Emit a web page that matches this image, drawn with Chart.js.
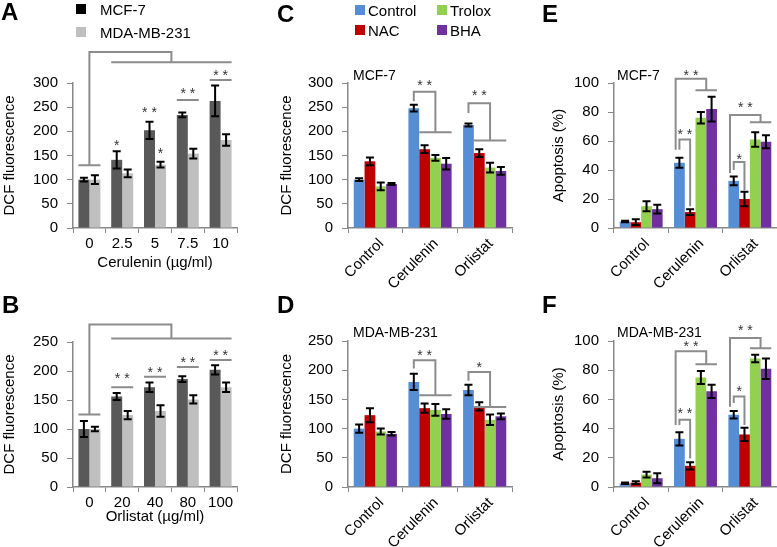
<!DOCTYPE html>
<html>
<head>
<meta charset="utf-8">
<script src="https://cdn.jsdelivr.net/npm/chart.js@4.4.1/dist/chart.umd.min.js"></script>
<style>
  body { margin: 0; background: #fff; width: 777px; height: 547px; position: relative; overflow: hidden;
         font-family: "Liberation Sans", Arial, sans-serif; color: #000; }
  canvas { position: absolute; }
  .letter { position: absolute; font-weight: bold; font-size: 24px; line-height: 1; }
  .sub { position: absolute; font-size: 14px; line-height: 1; }
  .leg { position: absolute; display: flex; align-items: center; height: 20px; font-size: 15px; white-space: nowrap; }
  .leg i { display: inline-block; width: 10px; height: 10px; }
</style>
</head>
<body>
<canvas id="pA"></canvas>
<canvas id="pB"></canvas>
<canvas id="pC"></canvas>
<canvas id="pD"></canvas>
<canvas id="pE"></canvas>
<canvas id="pF"></canvas>
<div class="letter" style="left:1px;top:0px">A</div>
<div class="letter" style="left:2px;top:293px">B</div>
<div class="letter" style="left:277px;top:2px">C</div>
<div class="letter" style="left:277px;top:293px">D</div>
<div class="letter" style="left:542px;top:2px">E</div>
<div class="letter" style="left:542px;top:293px">F</div>
<div id="legA"></div>
<div id="legC"></div>
<div class="sub" style="left:353px;top:68px">MCF-7</div>
<div class="sub" style="left:353px;top:325px">MDA-MB-231</div>
<div class="sub" style="left:617px;top:68px">MCF-7</div>
<div class="sub" style="left:617px;top:325px">MDA-MB-231</div>
<script>
// ---- data ----
const cerDoses = ['0', '2.5', '5', '7.5', '10'];
const orlDoses = ['0', '20', '40', '80', '100'];
const cellLines = ['MCF-7', 'MDA-MB-231'];
const cellColors = ['#595959', '#bfbfbf'];

const cerMcf = [100, 141, 202, 234, 263];
const cerMcfErr = [4, 18, 18, 5, 32];
const cerMda = [100, 113, 131, 154, 182];
const cerMdaErr = [9, 8, 6, 10, 12];

const orlMcf = [100, 156, 172, 186, 202];
const orlMcfErr = [14, 6, 8, 5, 8];
const orlMda = [100, 124, 131, 151, 172];
const orlMdaErr = [4, 7, 10, 7, 8];

const groups = ['Control', 'Cerulenin', 'Orlistat'];
const treatments = ['Control', 'NAC', 'Trolox', 'BHA'];
const treatColors = ['#558ed5', '#c00000', '#92d050', '#7030a0'];

// one row per treatment, one column per group
const dcfMcf = [[100, 248, 213], [138, 163, 155], [86, 145, 125], [91, 133, 118]];
const dcfMcfErr = [[3, 7, 3], [8, 8, 8], [8, 6, 10], [2, 12, 8]];
const dcfMda = [[100, 180, 166], [123, 135, 138], [95, 132, 115], [91, 125, 121]];
const dcfMdaErr = [[7, 14, 9], [12, 8, 7], [5, 10, 9], [3, 8, 5]];
const apoMcf = [[4.5, 45, 32.5], [4, 11, 20], [15, 76, 61], [13, 82, 59.5]];
const apoMcfErr = [[0.5, 3.5, 3], [2, 2, 5], [3.5, 4, 5], [3, 8.5, 4.5]];
const apoMda = [[2.5, 33, 49.5], [3, 14.5, 36], [8.5, 75, 88], [6, 65.5, 81]];
const apoMdaErr = [[0.5, 4.5, 2.5], [1, 2.5, 4.5], [2, 4.5, 2.5], [3.5, 4.5, 7]];

// significance, in data units
const cerBig = { base: 130, top: 364, low: 343 };
const cerPairs = [[0, 130], [3, 265, '* *', 283], [4, 306, '* *', 320]];
const cerStars = [[1, 0, '*', 175], [2, 0, '* *', 244], [2, 1, '*', 160]];
const orlBig = { base: 125, top: 280, low: 256 };
const orlPairs = [[0, 125], [1, 172, '* *', 191], [2, 190, '* *', 202], [3, 207, '* *', 218], [4, 219, '* *', 230]];

const dcfMcfSig = [
  { group: 1, base: 262, top: 282, low: 198, span: [1, 3], mark: '* *', at: 300 },
  { group: 2, base: 238, top: 258, low: 181, span: [1, 3], mark: '* *', at: 279 }
];
const dcfMdaSig = [
  { group: 1, base: 203, top: 217, low: 157, span: [1, 3], mark: '* *', at: 229 },
  { group: 2, base: 182, top: 197, low: 137, span: [1, 3], mark: '*', at: 209 }
];
const apoMcfSig = [
  { group: 1, base: 54, top: 103, low: 95, span: [2, 3], outer: true, mark: '* *', at: 107 },
  { group: 1, base: 54, top: 61, low: 15, span: [1, 1], mark: '* *', at: 66 },
  { group: 2, base: 38, top: 78, low: 73, span: [2, 3], outer: true, mark: '* *', at: 84.5 },
  { group: 2, base: 40, top: 45.5, low: 26, span: [1, 1], mark: '*', at: 49 }
];
const apoMdaSig = [
  { group: 1, base: 42.5, top: 93, low: 84, span: [2, 3], outer: true, mark: '* *', at: 98 },
  { group: 1, base: 42.5, top: 46, low: 19.5, span: [1, 1], mark: '* *', at: 52 },
  { group: 2, base: 55, top: 102, low: 95, span: [2, 3], outer: true, mark: '* *', at: 108.5 },
  { group: 2, base: 57.5, top: 62, low: 42.5, span: [1, 1], mark: '*', at: 66.7 }
];

// ---- drawing ----
Chart.defaults.font.family = '"Liberation Sans", Arial, sans-serif';
Chart.defaults.color = '#000';
const axisGray = '#888888';
const bracketGray = '#8c8c8c';
const starColor = '#333';

function drawStar(ctx, text, x, y) {
  ctx.font = '14px "Liberation Sans", Arial, sans-serif';
  ctx.fillStyle = starColor;
  ctx.textAlign = 'center';
  ctx.textBaseline = 'middle';
  ctx.fillText(text, x, y + 3);
}

const errorBars = {
  id: 'errorBars',
  afterDatasetsDraw(chart) {
    const ctx = chart.ctx, y = chart.scales.y;
    ctx.save();
    ctx.strokeStyle = '#000';
    ctx.lineWidth = 2;
    chart.data.datasets.forEach((ds, i) => {
      chart.getDatasetMeta(i).data.forEach((bar, j) => {
        const hi = y.getPixelForValue(ds.data[j] + ds.errors[j]);
        const lo = y.getPixelForValue(ds.data[j] - ds.errors[j]);
        ctx.beginPath();
        ctx.moveTo(bar.x, hi); ctx.lineTo(bar.x, lo);
        ctx.moveTo(bar.x - 4, hi); ctx.lineTo(bar.x + 4, hi);
        ctx.moveTo(bar.x - 4, lo); ctx.lineTo(bar.x + 4, lo);
        ctx.stroke();
      });
    });
    ctx.restore();
  }
};

function doseMarks(big, pairs, stars) {
  return {
    id: 'doseMarks',
    afterDatasetsDraw(chart) {
      const ctx = chart.ctx, y = chart.scales.y;
      const bar = (s, c) => chart.getDatasetMeta(s).data[c];
      const px = v => y.getPixelForValue(v);
      const n = chart.data.labels.length;
      ctx.save();
      ctx.strokeStyle = bracketGray;
      ctx.lineWidth = 2;
      const x0 = (bar(0, 0).x + bar(1, 0).x) / 2;
      const xa = bar(0, 1).x - bar(0, 1).width / 2;
      const xz = bar(1, n - 1).x + bar(1, n - 1).width / 2;
      const xm = (xa + xz) / 2;
      ctx.beginPath();
      ctx.moveTo(x0, px(big.base)); ctx.lineTo(x0, px(big.top));
      ctx.lineTo(xm, px(big.top)); ctx.lineTo(xm, px(big.low));
      ctx.moveTo(xa, px(big.low)); ctx.lineTo(xz, px(big.low));
      pairs.forEach(([c, v]) => {
        const l = bar(0, c), r = bar(1, c);
        ctx.moveTo(l.x - l.width / 2, px(v)); ctx.lineTo(r.x + r.width / 2, px(v));
      });
      ctx.stroke();
      pairs.forEach(([c, v, mark, at]) => {
        if (mark) drawStar(ctx, mark, (bar(0, c).x + bar(1, c).x) / 2, px(at));
      });
      stars.forEach(([c, s, mark, at]) => drawStar(ctx, mark, bar(s, c).x, px(at)));
      ctx.restore();
    }
  };
}

function groupMarks(list) {
  return {
    id: 'groupMarks',
    afterDatasetsDraw(chart) {
      const ctx = chart.ctx, y = chart.scales.y;
      const px = v => y.getPixelForValue(v);
      ctx.save();
      ctx.strokeStyle = bracketGray;
      ctx.lineWidth = 2;
      list.forEach(b => {
        const bar = s => chart.getDatasetMeta(s).data[b.group];
        const c = bar(0);
        const x0 = b.outer ? c.x - c.width * 0.35 : c.x;
        const first = bar(b.span[0]), last = bar(b.span[1]);
        let xm;
        ctx.beginPath();
        ctx.moveTo(x0, px(b.base)); ctx.lineTo(x0, px(b.top));
        if (b.span[0] === b.span[1]) {
          xm = first.x;
          ctx.lineTo(xm, px(b.top)); ctx.lineTo(xm, px(b.low));
        } else {
          const xa = first.x - first.width / 2, xz = last.x + last.width / 2;
          xm = (xa + xz) / 2;
          ctx.lineTo(xm, px(b.top)); ctx.lineTo(xm, px(b.low));
          ctx.moveTo(xa, px(b.low)); ctx.lineTo(xz, px(b.low));
        }
        ctx.stroke();
        drawStar(ctx, b.mark, (x0 + xm) / 2, px(b.at));
      });
      ctx.restore();
    }
  };
}

function barPanel(id, box, area, o) {
  const c = document.getElementById(id);
  c.width = box.w; c.height = box.h;
  c.style.left = box.x + 'px'; c.style.top = box.y + 'px';
  const padBottom = o.padBottom || 0;
  return new Chart(c, {
    type: 'bar',
    data: { labels: o.labels, datasets: o.datasets },
    options: {
      responsive: false, animation: false, devicePixelRatio: 1,
      layout: { padding: { left: 0, top: area.top - box.y, right: box.x + box.w - area.right, bottom: padBottom } },
      datasets: { bar: { categoryPercentage: o.catPct, barPercentage: 1 } },
      plugins: { legend: { display: false }, tooltip: { enabled: false } },
      scales: {
        x: {
          grid: { drawOnChartArea: false, tickLength: 5, color: axisGray },
          border: { color: axisGray, width: 1.5 },
          ticks: { font: { size: o.xFont }, padding: o.xPad, minRotation: o.rot, maxRotation: o.rot,
                   labelOffset: o.labelOffset || 0, autoSkip: false },
          title: o.xTitle ? { display: true, text: o.xTitle, font: { size: 15 }, padding: 0 } : { display: false },
          afterFit: s => { s.height = box.y + box.h - padBottom - area.bottom; }
        },
        y: {
          min: 0, max: o.yMax,
          ticks: { stepSize: o.yStep, font: { size: o.yFont }, padding: 9 },
          grid: { drawOnChartArea: false, tickLength: 6, color: axisGray },
          border: { color: axisGray, width: 1.5 },
          title: { display: true, text: o.yTitle, font: { size: 15 }, padding: { top: o.yTitlePad, bottom: 0 } },
          afterFit: s => { s.width = area.left - box.x; }
        }
      }
    },
    plugins: [errorBars, o.marks]
  });
}

function cellSets(a, aErr, b, bErr) {
  return [
    { label: cellLines[0], data: a, errors: aErr, backgroundColor: cellColors[0] },
    { label: cellLines[1], data: b, errors: bErr, backgroundColor: cellColors[1] }
  ];
}

function treatSets(vals, errs) {
  return treatments.map((t, i) => ({ label: t, data: vals[i], errors: errs[i], backgroundColor: treatColors[i] }));
}

barPanel('pA', { x: 0, y: 0, w: 260, h: 272 }, { left: 73, right: 237, top: 83, bottom: 228 }, {
  labels: cerDoses, datasets: cellSets(cerMcf, cerMcfErr, cerMda, cerMdaErr),
  catPct: 0.67, xFont: 15, xPad: 2, rot: 0, xTitle: 'Cerulenin (\u00b5g/ml)',
  yMax: 300, yStep: 50, yFont: 15, yTitle: 'DCF fluorescence', yTitlePad: 1,
  marks: doseMarks(cerBig, cerPairs, cerStars)
});
barPanel('pB', { x: 0, y: 270, w: 260, h: 277 }, { left: 73, right: 237, top: 342, bottom: 487 }, {
  labels: orlDoses, datasets: cellSets(orlMcf, orlMcfErr, orlMda, orlMdaErr),
  catPct: 0.67, xFont: 15, xPad: 2, rot: 0, xTitle: 'Orlistat (\u00b5g/ml)', padBottom: 21,
  yMax: 250, yStep: 50, yFont: 15, yTitle: 'DCF fluorescence', yTitlePad: 1,
  marks: doseMarks(orlBig, orlPairs, [])
});
barPanel('pC', { x: 262, y: 0, w: 258, h: 300 }, { left: 348, right: 512, top: 83, bottom: 228 }, {
  labels: groups, datasets: treatSets(dcfMcf, dcfMcfErr),
  catPct: 0.79, xFont: 15, xPad: 2, rot: 45, labelOffset: 6,
  yMax: 300, yStep: 50, yFont: 15, yTitle: 'DCF fluorescence', yTitlePad: 16,
  marks: groupMarks(dcfMcfSig)
});
barPanel('pD', { x: 262, y: 300, w: 258, h: 247 }, { left: 348, right: 512, top: 341, bottom: 487 }, {
  labels: groups, datasets: treatSets(dcfMda, dcfMdaErr),
  catPct: 0.79, xFont: 15, xPad: 2, rot: 45, labelOffset: 6,
  yMax: 250, yStep: 50, yFont: 15, yTitle: 'DCF fluorescence', yTitlePad: 16,
  marks: groupMarks(dcfMdaSig)
});
barPanel('pE', { x: 530, y: 0, w: 247, h: 300 }, { left: 614, right: 777, top: 83, bottom: 228 }, {
  labels: groups, datasets: treatSets(apoMcf, apoMcfErr),
  catPct: 0.79, xFont: 15, xPad: 2, rot: 45, labelOffset: 6,
  yMax: 100, yStep: 20, yFont: 15, yTitle: 'Apoptosis (%)', yTitlePad: 20,
  marks: groupMarks(apoMcfSig)
});
barPanel('pF', { x: 530, y: 300, w: 247, h: 247 }, { left: 614, right: 777, top: 341, bottom: 487 }, {
  labels: groups, datasets: treatSets(apoMda, apoMdaErr),
  catPct: 0.79, xFont: 15, xPad: 2, rot: 45, labelOffset: 6,
  yMax: 100, yStep: 20, yFont: 15, yTitle: 'Apoptosis (%)', yTitlePad: 20,
  marks: groupMarks(apoMdaSig)
});

// legends
function legendItem(parent, x, y, color, text, gap) {
  const d = document.createElement('div');
  d.className = 'leg';
  d.style.left = x + 'px'; d.style.top = y + 'px';
  d.innerHTML = '<i style="background:' + color + ';margin-right:' + gap + 'px"></i>' + text;
  parent.appendChild(d);
}
const legA = document.getElementById('legA');
legendItem(legA, 76, -1, '#000', cellLines[0], 14);
legendItem(legA, 76, 22, cellColors[1], cellLines[1], 14);
const legC = document.getElementById('legC');
const legSpots = [[355, 0], [355, 20], [437, 0], [437, 20]];
treatments.forEach((t, i) => legendItem(legC, legSpots[i][0], legSpots[i][1], treatColors[i], t, 3));
</script>
</body>
</html>
